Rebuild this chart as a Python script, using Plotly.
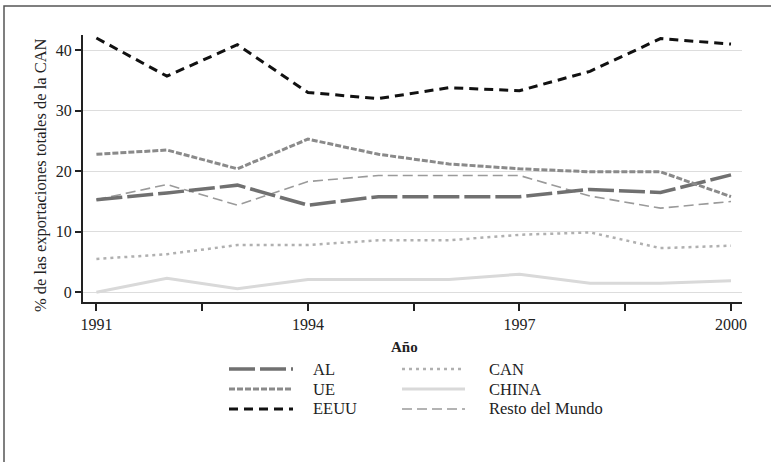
import plotly.graph_objects as go

years = [1991, 1992, 1993, 1994, 1995, 1996, 1997, 1998, 1999, 2000]
al = [15.3, 16.4, 17.7, 14.4, 15.8, 15.8, 15.8, 17.0, 16.5, 19.4]
ue = [22.8, 23.5, 20.4, 25.3, 22.8, 21.2, 20.4, 19.9, 19.9, 15.8]
eeuu = [42.0, 35.7, 40.9, 33.0, 32.0, 33.8, 33.3, 36.5, 41.9, 41.0]
can = [5.5, 6.3, 7.8, 7.8, 8.6, 8.6, 9.5, 9.9, 7.3, 7.7]
china = [0.0, 2.3, 0.6, 2.1, 2.1, 2.1, 3.0, 1.5, 1.5, 1.9]
resto = [15.3, 17.8, 14.4, 18.3, 19.3, 19.3, 19.3, 15.9, 13.9, 15.0]

x_tickvals = [1991, 1992.5, 1994, 1995.5, 1997, 1998.5, 2000]
x_ticktext = ["1991", "", "1994", "", "1997", "", "2000"]
y_tickvals = [0, 10, 20, 30, 40]

series = [
    ("CHINA", china, dict(color="#d9d9d9", width=3, dash="solid")),
    ("CAN", can, dict(color="#b0b0b0", width=2.5, dash="3px,4px")),
    ("Resto del Mundo", resto, dict(color="#9a9a9a", width=1.6, dash="10px,5px")),
    ("AL", al, dict(color="#707070", width=3.5, dash="26px,5px")),
    ("UE", ue, dict(color="#8a8a8a", width=3, dash="6px,2px")),
    ("EEUU", eeuu, dict(color="#111111", width=3, dash="9px,6px")),
]

FONT = "Liberation Serif"
W, H = 771, 462
L, R, T, B = 83, 742, 35, 302

fig = go.Figure()
for name, vals, ln in series:
    fig.add_trace(go.Scatter(x=years, y=vals, mode="lines", name=name, line=ln,
                             showlegend=False))

def px2paper_x(px):
    return (px - L) / (R - L)

def px2paper_y(py):
    return (B - py) / (B - T)

shapes = []
annotations = []

# outer border
shapes.append(dict(type="rect", xref="paper", yref="paper",
                   x0=px2paper_x(4), x1=px2paper_x(800),
                   y0=px2paper_y(480), y1=px2paper_y(6),
                   line=dict(color="#555555", width=1.5), layer="below"))

# custom legend
legend_layout = [
    ("AL", 0, 0), ("UE", 0, 1), ("EEUU", 0, 2),
    ("CAN", 1, 0), ("CHINA", 1, 1), ("Resto del Mundo", 1, 2),
]
styles = {n: ln for n, _, ln in series}
col_sym = [(229, 293, 311), (402, 465, 487)]
row_y = [369, 389, 409]
for name, c, r in legend_layout:
    x0, x1, xt = col_sym[c]
    yy = row_y[r]
    ln = styles[name]
    shapes.append(dict(type="line", xref="paper", yref="paper",
                       x0=px2paper_x(x0), x1=px2paper_x(x1),
                       y0=px2paper_y(yy), y1=px2paper_y(yy),
                       line=dict(color=ln["color"], width=ln["width"], dash=ln["dash"])))
    annotations.append(dict(text=name, xref="paper", yref="paper",
                            x=px2paper_x(xt), y=px2paper_y(yy),
                            xanchor="left", yanchor="middle", showarrow=False,
                            font=dict(family=FONT, size=16.5, color="#222222")))

# axis titles
annotations.append(dict(text="<b>Año</b>", xref="paper", yref="paper",
                        x=px2paper_x(404), y=px2paper_y(347),
                        xanchor="center", yanchor="middle", showarrow=False,
                        font=dict(family=FONT, size=15, color="#222222")))
annotations.append(dict(text="% de las exportaciones totales de la CAN",
                        xref="paper", yref="paper",
                        x=px2paper_x(40), y=px2paper_y(175), textangle=-90,
                        xanchor="center", yanchor="middle", showarrow=False,
                        font=dict(family=FONT, size=16.5, color="#222222")))

fig.update_layout(
    width=W, height=H,
    margin=dict(l=L, r=W - R, t=T, b=H - B, pad=0),
    paper_bgcolor="white", plot_bgcolor="white",
    font=dict(family=FONT, size=16, color="#222222"),
    shapes=shapes, annotations=annotations,
    showlegend=False,
)
fig.update_xaxes(range=[1990.81, 2000.156], tickvals=x_tickvals, ticktext=x_ticktext,
                 ticks="outside", ticklen=7, tickwidth=1.5, tickcolor="#222222",
                 showline=True, linecolor="#222222", linewidth=2,
                 showgrid=False, zeroline=False,
                 tickfont=dict(family=FONT, size=16, color="#222222"))
fig.update_yaxes(range=[-1.6, 42.5], tickvals=y_tickvals,
                 ticks="outside", ticklen=6, tickwidth=1.5, tickcolor="#222222",
                 showline=True, linecolor="#222222", linewidth=2,
                 showgrid=True, gridcolor="#dddddd", gridwidth=1, zeroline=False,
                 tickfont=dict(family=FONT, size=16, color="#222222"))

fig.write_html("out.html", config={"displayModeBar": False},
               post_script="document.body.style.margin='0';document.body.style.overflow='hidden';")
